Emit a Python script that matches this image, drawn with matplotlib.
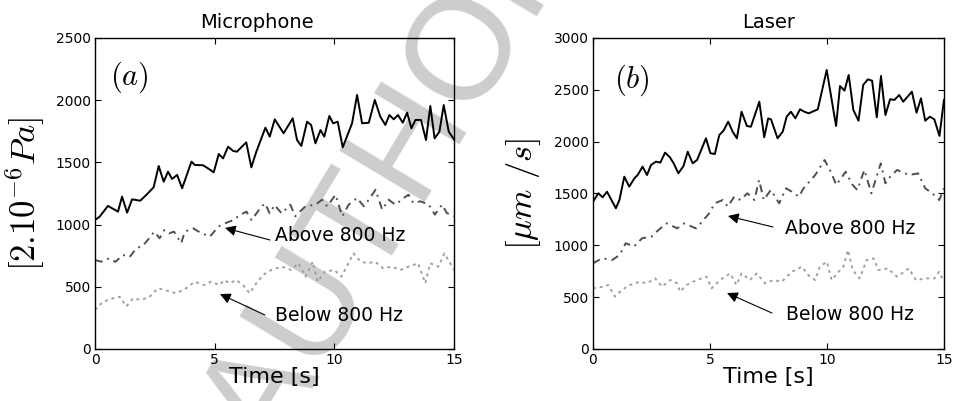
import matplotlib
matplotlib.use("Agg")
import matplotlib.pyplot as plt

# Microphone panel (a)
mic_total_t = [0, 0.19, 0.54, 0.96, 1.13, 1.34, 1.55, 1.89, 2.14, 2.45, 2.66, 2.87, 3.05, 3.22, 3.43,
               3.64, 4.03, 4.17, 4.51, 4.72, 4.96, 5.17, 5.35, 5.56, 5.77, 5.93, 6.32, 6.53, 6.74, 7.12,
               7.30, 7.51, 7.88, 8.26, 8.44, 8.62, 8.86, 9.03, 9.21, 9.42, 9.58, 9.79, 9.95, 10.14, 10.35,
               10.74, 10.95, 11.16, 11.44, 11.69, 11.92, 12.13, 12.30, 12.48, 12.66, 12.86, 13.04, 13.22,
               13.39, 13.62, 13.83, 14.01, 14.19, 14.39, 14.57, 14.78, 15.0]
mic_total = [1037, 1063, 1150, 1104, 1225, 1096, 1203, 1192, 1238, 1300, 1471, 1345, 1425, 1367, 1399,
             1292, 1506, 1479, 1477, 1452, 1420, 1567, 1532, 1626, 1592, 1586, 1661, 1460, 1586, 1779,
             1707, 1846, 1734, 1854, 1680, 1632, 1827, 1801, 1653, 1760, 1707, 1873, 1814, 1827, 1621,
             1814, 2042, 1814, 1819, 2002, 1868, 1801, 1881, 1846, 1881, 1819, 1900, 1774,
             1841, 1841, 1680, 1953, 1693, 1747, 1961, 1747, 1685]

mic_above_t = [0, 0.26, 0.6, 0.85, 1.16, 1.45, 1.72, 2.0, 2.2, 2.48, 2.7, 2.9, 3.1, 3.3, 3.6, 3.75, 4.1,
               4.45, 4.8, 5.15, 5.43, 5.78, 6.05, 6.33, 6.54, 6.9, 7.1, 7.3, 7.5, 7.8, 8.16, 8.37, 8.79,
               9.21, 9.49, 9.7, 10.05, 10.33, 10.6, 10.95, 11.23, 11.44, 11.72, 12.0, 12.27, 12.55, 12.9,
               13.1, 13.3, 13.6, 13.95, 14.2, 14.5, 14.7, 15.0]
mic_above = [715, 702, 729, 700, 756, 740, 809, 830, 876, 943, 890, 956, 930, 943, 850, 943, 970,
             930, 903, 983, 1010, 1036, 1077, 1104, 1036, 1131, 1171, 1090, 1157, 1090, 1160, 1067, 1147,
             1160, 1200, 1147, 1240, 1067, 1160, 1214, 1147, 1200, 1280, 1120, 1200, 1160, 1214,
             1240, 1174, 1187, 1160, 1080, 1160, 1093, 1067]

mic_below_t = [0, 0.33, 0.75, 1.03, 1.31, 1.59, 1.93, 2.28, 2.63, 2.98, 3.39, 3.81, 4.16, 4.57, 4.85,
               5.2, 5.41, 5.62, 5.9, 6.18, 6.46, 6.74, 7.02, 7.37, 7.8, 8.2, 8.5, 8.8, 9.1, 9.3, 9.6,
               10.0, 10.3, 10.8, 11.1, 11.4, 11.7, 12.05, 12.4, 12.75, 13.1, 13.5, 13.8, 14.0, 14.35,
               14.6, 15.0]
mic_below = [314, 380, 407, 420, 343, 407, 394, 420, 488, 470, 448, 488, 541, 514, 541,
             514, 555, 528, 555, 514, 448, 528, 595, 635, 662, 635, 689, 582, 702, 541, 622,
             635, 582, 769, 702, 689, 702, 648, 662, 635, 662, 689, 528, 689, 662,
             769, 635]

# Laser panel (b)
las_total_t = [0, 0.23, 0.41, 0.60, 0.98, 1.13, 1.34, 1.55, 1.77, 1.91, 2.12, 2.31, 2.48, 2.69, 2.88,
               3.08, 3.29, 3.45, 3.65, 3.87, 4.05, 4.26, 4.45, 4.83, 5.02, 5.21, 5.40, 5.58, 5.78, 5.97,
               6.15, 6.35, 6.58, 6.75, 7.11, 7.32, 7.49, 7.61, 7.89, 8.11, 8.28, 8.46, 8.65, 8.85, 9.03,
               9.22, 9.61, 9.99, 10.39, 10.56, 10.75, 10.93, 11.13, 11.35, 11.55, 11.75, 11.93, 12.13,
               12.31, 12.50, 12.70, 12.88, 13.09, 13.26, 13.63, 13.83, 14.02, 14.20, 14.40, 14.59,
               14.81, 15.0]
las_total = [1420, 1502, 1463, 1517, 1357, 1437, 1662, 1566, 1646, 1678, 1759, 1678, 1775, 1807, 1798,
             1894, 1849, 1791, 1695, 1765, 1903, 1791, 1823, 2032, 1888, 1881, 2064, 2106, 2193, 2096,
             2032, 2289, 2151, 2144, 2385, 2042, 2225, 2215, 2032, 2096, 2241, 2289, 2225, 2312, 2289,
             2273, 2312, 2691, 2151, 2537, 2492, 2643, 2305, 2202, 2547, 2601, 2588, 2235,
             2633, 2257, 2409, 2402, 2450, 2385, 2482, 2280, 2418, 2202, 2241, 2215,
             2055, 2402]

las_above_t = [0, 0.4, 0.83, 1.14, 1.4, 1.75, 2.1, 2.5, 2.8, 3.15, 3.6, 3.9, 4.4, 4.6, 4.97, 5.2, 5.55,
               5.76, 6.04, 6.3, 6.6, 6.9, 7.1, 7.3, 7.6, 7.96, 8.25, 8.5, 8.8, 9.0, 9.5, 9.9, 10.2, 10.4,
               10.8, 11.1, 11.3, 11.6, 11.9, 12.3, 12.5, 12.7, 13.0, 13.5, 13.9, 14.2, 14.5, 14.8, 15.0]
las_above = [827, 875, 859, 907, 1020, 988, 1068, 1084, 1148, 1212, 1164, 1212, 1164, 1212, 1309, 1405,
             1437, 1373, 1469, 1437, 1502, 1437, 1630, 1437, 1534, 1405, 1550, 1517, 1469, 1550, 1678,
             1823, 1694, 1582, 1710, 1582, 1534, 1727, 1502, 1790, 1598, 1662, 1727, 1678, 1694, 1550,
             1502, 1437, 1550]

las_below_t = [0, 0.44, 0.65, 0.94, 1.23, 1.58, 2.0, 2.3, 2.66, 2.95, 3.3, 3.6, 3.72, 4.0, 4.43, 4.86,
               5.07, 5.43, 5.86, 6.14, 6.35, 6.71, 7.0, 7.36, 7.71, 8.07, 8.5, 8.93, 9.2, 9.5, 9.7, 10.0,
               10.2, 10.5, 10.7, 10.9, 11.1, 11.4, 11.7, 12.0, 12.2, 12.6, 13.0, 13.5, 13.8, 14.25, 14.6,
               14.8, 15.0]
las_below = [585, 601, 617, 505, 569, 617, 649, 633, 681, 601, 665, 633, 553, 617, 665, 697,
             585, 665, 729, 617, 729, 665, 729, 633, 665, 649, 745, 794, 713, 665, 794, 842,
             665, 745, 794, 955, 761, 681, 858, 874, 761, 777, 697, 777, 665, 681, 681,
             745, 649]

x_ticks = [0, 5, 10, 15]
mic_yticks = [0, 500, 1000, 1500, 2000, 2500]
las_yticks = [0, 500, 1000, 1500, 2000, 2500, 3000]

plt.rcParams["mathtext.fontset"] = "cm"

fig = plt.figure(figsize=(9.55, 4.01), dpi=100)
ax1 = fig.add_axes([0.0995, 0.1297, 0.3759, 0.7756])
ax2 = fig.add_axes([0.6209, 0.1297, 0.3675, 0.7756])

lw = 1.4
dashdot = (0, (4, 2.6, 1, 2.6))
dotted = (0, (1.5, 2))
arrow = dict(arrowstyle="-|>", color="k", lw=0.8, mutation_scale=16, shrinkA=0, shrinkB=0)


def style_axes(ax, yticks, title, title_x, ylabel, tag, tag_xy, label_x):
    ax.set_facecolor("none")
    ax.set_xlim(0, 15)
    ax.set_ylim(yticks[0], yticks[-1])
    ax.set_xticks(x_ticks)
    ax.set_yticks(yticks)
    ax.tick_params(direction="in", top=True, right=True, length=4, width=0.8, labelsize=10, pad=3)
    for s in ax.spines.values():
        s.set_linewidth(1.0)
    ax.set_title(title, fontsize=14, pad=7, x=title_x)
    ax.set_xlabel("Time [s]", fontsize=16, labelpad=0)
    ax.set_ylabel(ylabel, fontsize=25)
    ax.yaxis.set_label_coords(label_x, 0.5)
    ax.text(tag_xy[0], tag_xy[1], tag, transform=ax.transAxes, fontsize=22, ha="center", va="center")


# (a) Microphone
ax1.plot(mic_total_t, mic_total, color="k", lw=lw)
ax1.plot(mic_above_t, mic_above, color="#505050", lw=lw, ls=dashdot)
ax1.plot(mic_below_t, mic_below, color="#a0a0a0", lw=lw, ls=dotted)
ax1.annotate("", xy=(5.43, 973), xytext=(7.31, 876), arrowprops=arrow)
ax1.text(7.52, 916, "Above 800 Hz", fontsize=13.5, va="center", ha="left")
ax1.annotate("", xy=(5.22, 442), xytext=(7.1, 273), arrowprops=arrow)
ax1.text(7.52, 273, "Below 800 Hz", fontsize=13.5, va="center", ha="left")
style_axes(ax1, mic_yticks, "Microphone", 0.451, r"$[2.10^{-6}Pa]$", r"$(a)$", (0.097, 0.875), -0.134)

# (b) Laser
ax2.plot(las_total_t, las_total, color="k", lw=lw)
ax2.plot(las_above_t, las_above, color="#505050", lw=lw, ls=dashdot)
ax2.plot(las_below_t, las_below, color="#a0a0a0", lw=lw, ls=dotted)
ax2.annotate("", xy=(5.77, 1283), xytext=(7.69, 1177), arrowprops=arrow)
ax2.text(8.2, 1167, "Above 800 Hz", fontsize=13.5, va="center", ha="left")
ax2.annotate("", xy=(5.73, 540), xytext=(7.65, 347), arrowprops=arrow)
ax2.text(8.25, 328, "Below 800 Hz", fontsize=13.5, va="center", ha="left")
style_axes(ax2, las_yticks, "Laser", 0.5, r"$[\mu m\ /s]$", r"$(b)$", (0.111, 0.865), -0.142)

# watermark, sits behind the axes
fig.text(0.414, 0.556, "AUTHOR", rotation=59, rotation_mode="anchor", fontsize=104,
         family="Liberation Sans", color="#cdcdcd", ha="center", va="center", zorder=-1)

fig.savefig("out.png", dpi=100)
